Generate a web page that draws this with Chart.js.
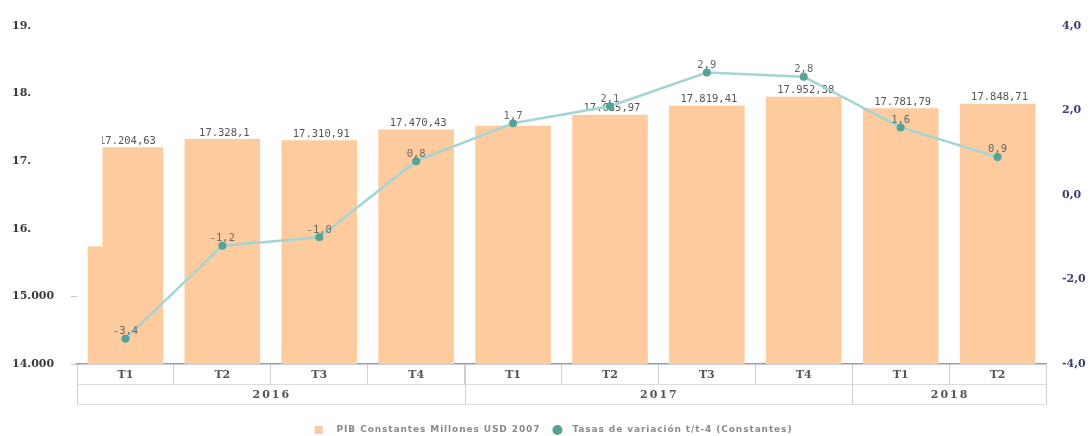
<!DOCTYPE html>
<html>
<head>
<meta charset="utf-8">
<script src="https://cdn.jsdelivr.net/npm/chart.js@4.4.1/dist/chart.umd.min.js"></script>
<style>
  html, body { margin: 0; padding: 0; background: #fff; }
  #wrap { width: 1091px; height: 436px; }
</style>
</head>
<body>
<div id="wrap"><canvas id="myChart"></canvas></div>
<script>
// PIB trimestral y tasa de variación interanual

const quarters = ["T1", "T2", "T3", "T4", "T1", "T2", "T3", "T4", "T1", "T2"];
const years = ["2016", "2017", "2018"];
const quartersPerYear = [4, 4, 2];

const pibValues = [17204.63, 17328.1, 17310.91, 17470.43, 17523.18, 17685.97, 17819.41, 17952.38, 17781.79, 17848.71];
const pibShowLabel = [true, true, true, true, false, true, true, true, true, true];
const variacion = [-3.4, -1.2, -1.0, 0.8, 1.7, 2.1, 2.9, 2.8, 1.6, 0.9];

const pibTicks = [14000, 15000, 16000, 17000, 18000, 19000];
const variacionTicks = [-4, -2, 0, 2, 4];

const serieNames = ["PIB Constantes Millones USD 2007", "Tasas de variación t/t-4 (Constantes)"];

const barColor = "#fdcb9e";
const lineColor = "#a2d5d3";
const pointColor = "#55a394";

// 17328.1 -> "17.328,1"
const fmtEs = (v) => {
  const parts = String(v).split(".");
  const ent = parts[0].replace(/\B(?=(\d{3})+(?!\d))/g, ".");
  return parts[1] ? `${ent},${parts[1]}` : ent;
};
const fmtRate = (v) => v.toFixed(1).replace(".", ",");

// value labels drawn right after each dataset
const valueLabels = {
  id: "valueLabels",
  afterDatasetDraw(chart, args) {
    const ctx = chart.ctx;
    const meta = args.meta;
    ctx.save();
    ctx.font = "10.5px 'DejaVu Sans Mono'";
    ctx.textAlign = "center";
    ctx.textBaseline = "bottom";
    if (meta.type === "bar") {
      ctx.fillStyle = "#555";
      meta.data.forEach((bar, i) => {
        if (pibShowLabel[i]) ctx.fillText(fmtEs(pibValues[i]), bar.x + 2, bar.y - 1);
      });
      // blank block left of the first bar
      const first = meta.data[0];
      const yScale = chart.scales.y;
      ctx.fillStyle = "#fff";
      ctx.fillRect(chart.chartArea.left, 0, first.x - 23 - chart.chartArea.left, yScale.getPixelForValue(15740));
    } else {
      ctx.fillStyle = "#666";
      meta.data.forEach((pt, i) => {
        ctx.fillText(fmtRate(variacion[i]), pt.x, pt.y - 2);
      });
    }
    ctx.restore();
  },
};

// second row of the x axis: years
const yearRow = {
  id: "yearRow",
  afterDraw(chart) {
    const ctx = chart.ctx;
    const x = chart.scales.x;
    const area = chart.chartArea;
    const half = (area.right - area.left) / quarters.length / 2;
    const row1 = area.bottom + 20;
    const row2 = area.bottom + 40;
    ctx.save();
    ctx.strokeStyle = "#dcdcdc";
    ctx.lineWidth = 1;
    [row1, row2].forEach((yy) => {
      ctx.beginPath();
      ctx.moveTo(area.left, yy + 0.5);
      ctx.lineTo(area.right, yy + 0.5);
      ctx.stroke();
    });
    ctx.font = "bold 11px 'DejaVu Serif'";
    ctx.letterSpacing = "2px";
    ctx.fillStyle = "#555";
    ctx.textAlign = "center";
    ctx.textBaseline = "middle";
    let start = 0;
    years.forEach((yr, i) => {
      const n = quartersPerYear[i];
      const x0 = x.getPixelForValue(start) - half;
      const x1 = x.getPixelForValue(start + n - 1) + half;
      ctx.strokeStyle = "#cfcfcf";
      [x0, x1].forEach((xx) => {
        ctx.beginPath();
        ctx.moveTo(Math.round(xx) + 0.5, area.bottom);
        ctx.lineTo(Math.round(xx) + 0.5, row2);
        ctx.stroke();
      });
      ctx.fillText(yr, (x0 + x1) / 2 + 1, (row1 + row2) / 2 + 1);
      start += n;
    });
    ctx.restore();
  },
};

// legend at the bottom: square for the bars, dot for the line
const bottomLegend = {
  id: "bottomLegend",
  afterDraw(chart) {
    const ctx = chart.ctx;
    ctx.save();
    ctx.font = "bold 9px 'DejaVu Sans'";
    ctx.letterSpacing = "0.9px";
    ctx.textBaseline = "middle";
    ctx.textAlign = "left";
    const w0 = ctx.measureText(serieNames[0]).width;
    const w1 = ctx.measureText(serieNames[1]).width;
    const total = 8 + 14 + w0 + 12 + 10 + 10 + w1;
    const cy = chart.height - 6;
    let px = (chart.width - total) / 2 + 8;
    ctx.fillStyle = barColor;
    ctx.fillRect(px, cy - 4, 8, 8);
    px += 8 + 14;
    ctx.fillStyle = "#8a8a8a";
    ctx.fillText(serieNames[0], px, cy);
    px += w0 + 12;
    ctx.fillStyle = pointColor;
    ctx.beginPath();
    ctx.arc(px + 5, cy, 5, 0, Math.PI * 2);
    ctx.fill();
    px += 10 + 10;
    ctx.fillStyle = "#8a8a8a";
    ctx.fillText(serieNames[1], px, cy);
    ctx.restore();
  },
};

new Chart("myChart", {
  data: {
    labels: quarters,
    datasets: [
      {
        type: "bar",
        label: serieNames[0],
        data: pibValues,
        backgroundColor: barColor,
        yAxisID: "y",
        order: 2,
        categoryPercentage: 1,
        barPercentage: 0.78,
      },
      {
        type: "line",
        label: serieNames[1],
        data: variacion,
        borderColor: lineColor,
        backgroundColor: pointColor,
        borderWidth: 2.5,
        pointRadius: 4,
        pointBorderWidth: 0,
        pointBackgroundColor: pointColor,
        tension: 0,
        yAxisID: "y1",
        order: 1,
      },
    ],
  },
  options: {
    responsive: true,
    maintainAspectRatio: false,
    animation: false,
    layout: { padding: { left: 12, top: 26, right: 0, bottom: 27 } },
    plugins: {
      tooltip: { enabled: false },
      legend: { display: false },
    },
    scales: {
      x: {
        offset: true,
        grid: { offset: true, drawOnChartArea: false, tickLength: 20, color: "#d0d0d0" },
        border: { color: "#8f9db3", width: 1.5 },
        ticks: {
          padding: -15,
          color: "#555",
          font: { family: "'DejaVu Serif'", weight: "bold", size: 11 },
        },
        afterFit: (scale) => { scale.height = 45; },
      },
      y: {
        position: "left",
        min: pibTicks[0],
        max: pibTicks[pibTicks.length - 1],
        afterBuildTicks: (scale) => { scale.ticks = pibTicks.map((v) => ({ value: v })); },
        grid: {
          drawOnChartArea: false,
          tickLength: 6,
          tickColor: (c) => (c.index < 2 ? "#c8c8c8" : "rgba(0,0,0,0)"),
        },
        border: { display: false },
        ticks: {
          crossAlign: "far",
          padding: 4,
          color: "#3a3a3a",
          font: { family: "'DejaVu Serif'", weight: "bold", size: 11 },
          callback: (v) => (v >= 16000 ? `${v / 1000}.` : fmtEs(v)),
        },
        afterFit: (scale) => { scale.width = 65; },
      },
      y1: {
        position: "right",
        min: variacionTicks[0],
        max: variacionTicks[variacionTicks.length - 1],
        afterBuildTicks: (scale) => { scale.ticks = variacionTicks.map((v) => ({ value: v })); },
        grid: { drawOnChartArea: false, drawTicks: false },
        border: { display: false },
        ticks: {
          padding: 16,
          color: "#3c3c6e",
          font: { family: "'DejaVu Serif'", weight: "bold", size: 11 },
          callback: (v) => fmtRate(v),
        },
        afterFit: (scale) => { scale.width = 45; },
      },
    },
  },
  plugins: [valueLabels, yearRow, bottomLegend],
});
</script>
</body>
</html>
